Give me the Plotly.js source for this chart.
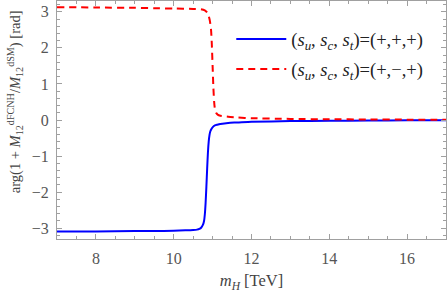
<!DOCTYPE html>
<html><head><meta charset="utf-8">
<script src="https://cdn.plot.ly/plotly-3.0.1.min.js"></script>
<style>html,body{margin:0;padding:0;background:#fff}#plot{width:447px;height:296px}</style>
</head><body><div id="plot"></div>
<script>
// m_H [TeV]
const xBlue = [7, 8, 9, 9.5, 10, 10.3, 10.5, 10.6, 10.66, 10.71, 10.75, 10.78, 10.80, 10.82, 10.84, 10.86, 10.88, 10.90, 10.92, 10.94, 10.97, 11.01, 11.06, 11.12, 11.2, 11.4, 11.63, 12, 13, 14, 15, 16, 17];
const yBlue = [-3.09, -3.09, -3.08, -3.08, -3.07, -3.06, -3.05, -3.04, -3.02, -2.98, -2.91, -2.80, -2.62, -2.3, -1.85, -1.35, -0.9, -0.6, -0.42, -0.32, -0.25, -0.19, -0.15, -0.13, -0.11, -0.08, -0.07, -0.05, -0.03, -0.02, -0.015, -0.01, -0.01];
const xRed = [7, 8, 9, 9.5, 10, 10.5, 10.7, 10.8, 10.86, 10.9, 10.93, 10.96, 10.98, 11.0, 11.02, 11.04, 11.06, 11.09, 11.13, 11.2, 11.4, 11.63, 12, 13, 14, 15, 16, 17];
const yRed = [3.13, 3.12, 3.11, 3.10, 3.09, 3.08, 3.07, 3.04, 2.98, 2.88, 2.75, 2.5, 2.1, 1.5, 0.9, 0.5, 0.3, 0.2, 0.15, 0.12, 0.09, 0.07, 0.05, 0.03, 0.02, 0.015, 0.01, 0.01];
const nameBlue = '(<i>s<sub>u</sub></i>, <i>s<sub>c</sub></i>, <i>s<sub>t</sub></i>)=(+,+,+)';
const nameRed = '(<i>s<sub>u</sub></i>, <i>s<sub>c</sub></i>, <i>s<sub>t</sub></i>)=(+,\u2212,+)';
const yTitle = 'arg(1 + <i>M</i><sub>12</sub><sup>dFCNH</sup>/<i>M</i><sub>12</sub><sup>dSM</sup>) [rad]';

const font = 'Liberation Serif, Times New Roman, serif';
const data = [
  {x: xBlue, y: yBlue, type: 'scatter', mode: 'lines', name: nameBlue, legendgroup: 'a',
   line: {color: '#0000ff', width: 2, shape: 'spline', smoothing: 0.6}},
  {x: xRed, y: yRed, type: 'scatter', mode: 'lines', name: nameRed, legendgroup: 'b',
   line: {color: '#ff0000', width: 2, dash: '7px,5px', shape: 'spline', smoothing: 0.6}}
];
const axisCommon = {
  showgrid: false, zeroline: false, showline: true, linecolor: '#a0a0a0', linewidth: 1,
  mirror: 'allticks', ticks: 'inside', ticklen: 5, tickcolor: '#a0a0a0',
  tickfont: {family: font, size: 16, color: '#555'}
};
const layout = {
  width: 447, height: 296,
  margin: {l: 57, r: 1, t: 1, b: 57},
  paper_bgcolor: '#fff', plot_bgcolor: '#fff',
  font: {family: font, color: '#444'},
  xaxis: Object.assign({}, axisCommon, {
    range: [7, 17], dtick: 2, tick0: 8,
    minor: {dtick: 0.5, ticks: 'inside', ticklen: 3, tickcolor: '#a0a0a0'},
    ticklabelstandoff: 5,
    title: {text: '<i>m<sub>H</sub></i> [TeV]', font: {family: font, size: 16.5, color: '#444'}, standoff: 8}
  }),
  yaxis: Object.assign({}, axisCommon, {
    range: [-3.3, 3.3], dtick: 1, tick0: 0,
    minor: {dtick: 0.2, ticks: 'inside', ticklen: 3, tickcolor: '#a0a0a0'},
    ticklabelstandoff: 4
  }),
  annotations: [{
    text: yTitle, xref: 'paper', yref: 'paper', x: 0, y: 0.575,
    xanchor: 'center', yanchor: 'middle', xshift: -42, textangle: -90, showarrow: false,
    font: {family: font, size: 14.5, color: '#444'}
  }],
  showlegend: true,
  legend: {x: 0.448, y: 0.918, xanchor: 'left', yanchor: 'top', bgcolor: 'rgba(0,0,0,0)',
    font: {family: font, size: 18.5, color: '#222'}, traceorder: 'grouped', tracegroupgap: 3,
    itemwidth: 50}
};
Plotly.newPlot('plot', data, layout, {displayModeBar: false, staticPlot: true});
</script></body></html>
